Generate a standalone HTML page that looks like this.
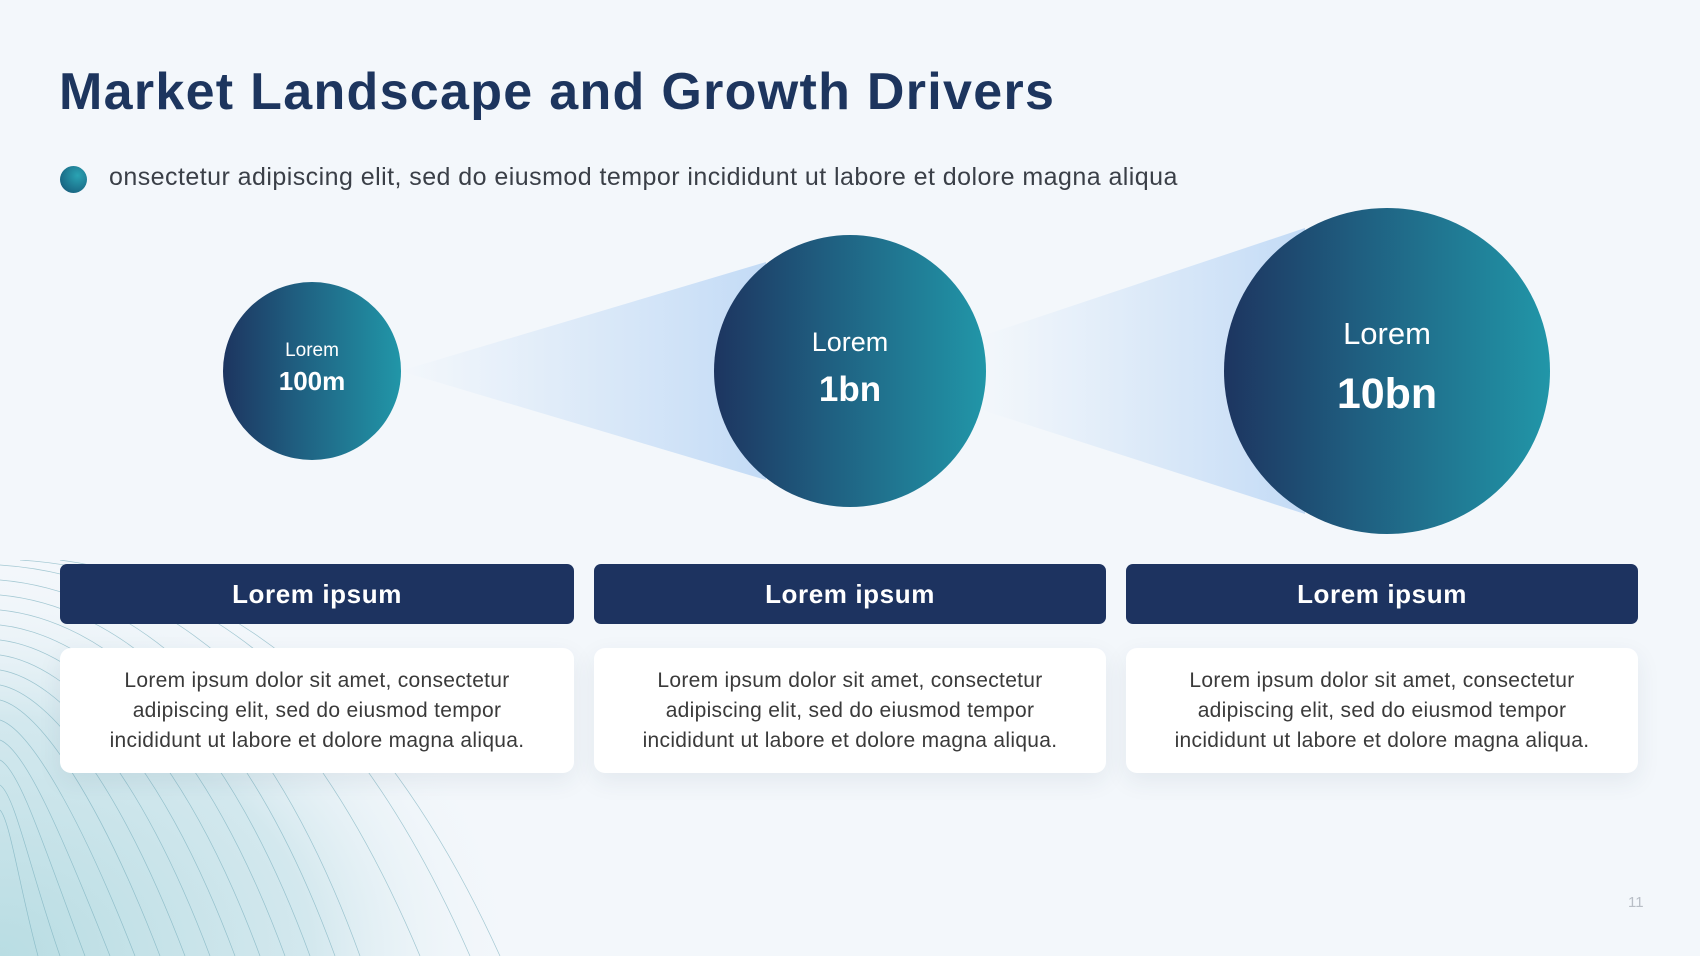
<!DOCTYPE html>
<html><head><meta charset="utf-8"><style>
*{margin:0;padding:0;box-sizing:border-box}
body{width:1700px;height:956px;background:#f3f7fb;position:relative;overflow:hidden;font-family:"Liberation Sans",sans-serif}
.abs{position:absolute}
h1{position:absolute;left:59px;top:62px;font-size:52px;font-weight:bold;color:#1d355e;letter-spacing:1.3px;white-space:nowrap}
.dot{left:60px;top:166px;width:27px;height:27px;border-radius:50%;background:radial-gradient(circle at 65% 35%,#2aa3b3,#1a6a86 70%,#1d4a6e)}
.sub{left:109px;top:163px;font-size:25px;color:#3a3f47;white-space:nowrap;letter-spacing:0.45px}
.circ{border-radius:50%;background:linear-gradient(90deg,#1d3560 0%,#1f5d7f 40%,#2196a8 100%);color:#fff;text-align:center}
.bar{top:564px;height:60px;background:#1d3360;border-radius:7px;color:#fff;font-weight:bold;font-size:26px;letter-spacing:0.6px;line-height:60px;text-align:center}
.card{top:648px;height:125px;background:#fff;border-radius:11px;box-shadow:0 8px 24px rgba(40,60,90,0.08);color:#3a3a3a;font-size:21px;letter-spacing:0.3px;line-height:30px;text-align:center;padding-top:18px}
</style></head><body>
<svg class="abs" style="left:0;top:560px" width="520" height="396" viewBox="0 0 520 396">
<defs><radialGradient id="rg" cx="0" cy="1" r="1"><stop offset="0" stop-color="#b9dde3"/><stop offset="0.6" stop-color="#d3e8ee"/><stop offset="1" stop-color="#f3f7fb" stop-opacity="0"/></radialGradient></defs>
<rect width="520" height="396" fill="url(#rg)"/>
<g fill="none" stroke="#6fa9b8" stroke-width="0.7" opacity="0.6">
<path d="M0 20 C120 30 260 120 360 396"/><path d="M0 35 C110 45 240 135 335 396"/><path d="M0 50 C100 60 220 150 310 396"/><path d="M0 65 C90 75 200 165 285 396"/><path d="M0 80 C80 90 180 180 260 396"/><path d="M0 95 C70 105 160 195 235 396"/><path d="M0 110 C60 120 140 210 210 396"/><path d="M0 125 C50 135 120 225 185 396"/><path d="M0 140 C40 150 100 240 160 396"/><path d="M0 160 C30 170 80 255 135 396"/><path d="M0 180 C25 190 60 270 110 396"/><path d="M0 200 C20 210 45 290 85 396"/><path d="M0 225 C15 235 30 310 60 396"/><path d="M0 250 C10 260 20 330 38 396"/>
<path d="M0 5 C150 15 300 110 420 396"/><path d="M20 0 C180 10 340 100 470 396"/><path d="M60 0 C210 20 370 110 500 396"/>
</g></svg>
<h1>Market Landscape and Growth Drivers</h1>
<div class="abs dot"></div>
<div class="abs sub">onsectetur adipiscing elit, sed do eiusmod tempor incididunt ut labore et dolore magna aliqua</div>
<svg class="abs" style="left:0;top:0" width="1700" height="560">
<defs>
<linearGradient id="c1" x1="0" x2="1"><stop offset="0" stop-color="#c8def6" stop-opacity="0"/><stop offset="1" stop-color="#c3dbf6"/></linearGradient>
</defs>
<polygon points="400,371 766,262 766,480" fill="url(#c1)"/>
<polygon points="982,336 1305,228 1305,514 982,410" fill="url(#c1)"/>
</svg>
<div class="abs circ" style="left:223px;top:282px;width:178px;height:178px">
<div style="padding-top:58px;font-size:19px">Lorem</div><div style="font-size:26px;font-weight:bold;margin-top:4px">100m</div></div>
<div class="abs circ" style="left:714px;top:235px;width:272px;height:272px">
<div style="padding-top:92px;font-size:27px">Lorem</div><div style="font-size:35px;font-weight:bold;margin-top:12px">1bn</div></div>
<div class="abs circ" style="left:1224px;top:208px;width:326px;height:326px">
<div style="padding-top:108px;font-size:31px">Lorem</div><div style="font-size:43px;font-weight:bold;margin-top:18px">10bn</div></div>
<div class="abs bar" style="left:60px;width:514px">Lorem ipsum</div>
<div class="abs bar" style="left:594px;width:512px">Lorem ipsum</div>
<div class="abs bar" style="left:1126px;width:512px">Lorem ipsum</div>
<div class="abs card" style="left:60px;width:514px">Lorem ipsum dolor sit amet, consectetur<br>adipiscing elit, sed do eiusmod tempor<br>incididunt ut labore et dolore magna aliqua.</div>
<div class="abs card" style="left:594px;width:512px">Lorem ipsum dolor sit amet, consectetur<br>adipiscing elit, sed do eiusmod tempor<br>incididunt ut labore et dolore magna aliqua.</div>
<div class="abs card" style="left:1126px;width:512px">Lorem ipsum dolor sit amet, consectetur<br>adipiscing elit, sed do eiusmod tempor<br>incididunt ut labore et dolore magna aliqua.</div>
<div class="abs" style="left:1628px;top:894px;font-size:15px;color:#b8bec6">11</div>
</body></html>
